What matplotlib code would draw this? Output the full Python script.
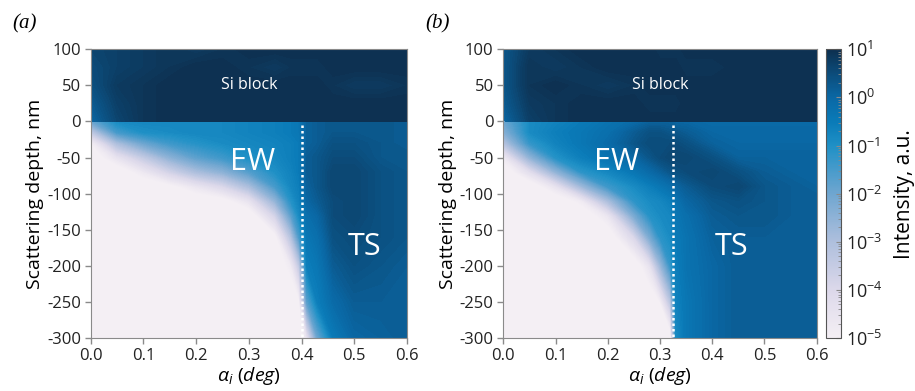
import numpy as np
import matplotlib
matplotlib.use('Agg')
import matplotlib.pyplot as plt
from matplotlib.colors import LogNorm, LinearSegmentedColormap
from matplotlib.cm import ScalarMappable

plt.rcParams['font.family'] = ['Open Sans', 'DejaVu Sans']
plt.rcParams['axes.unicode_minus'] = False
plt.rcParams['mathtext.fontset'] = 'custom'
plt.rcParams['mathtext.rm'] = 'Open Sans'
plt.rcParams['mathtext.it'] = 'Open Sans:italic'

# data: log10 of intensity ~~~~~~~~~~~~~~~~~~~~~~~~~~~~~~~~~~~~~~~~~~~~~~~
depth_sub = [0, -15, -30, -50, -70, -90, -110, -130, -160, -200, -250, -300]
depth_si = [0, 25, 50, 75, 100]

# panel (a): one row per incidence angle, values along depth_sub
alpha_a = [0.0, 0.05, 0.1, 0.15, 0.2, 0.25, 0.3, 0.35, 0.38, 0.395, 0.41,
           0.43, 0.46, 0.5, 0.55, 0.6]
sub_a = [
    [-2.0, -3.5, -5.0, -5.5, -5.5, -5.5, -5.5, -5.5, -5.5, -5.5, -5.5, -5.5],
    [-0.9, -1.5, -3.0, -4.5, -5.5, -5.5, -5.5, -5.5, -5.5, -5.5, -5.5, -5.5],
    [-0.8, -1.0, -2.0, -3.5, -4.7, -5.5, -5.5, -5.5, -5.5, -5.5, -5.5, -5.5],
    [-0.8, -0.9, -1.4, -2.5, -3.8, -5.2, -5.5, -5.5, -5.5, -5.5, -5.5, -5.5],
    [-0.8, -0.8, -1.1, -1.8, -3.0, -4.6, -5.5, -5.5, -5.5, -5.5, -5.5, -5.5],
    [-0.8, -0.8, -0.9, -1.4, -2.5, -4.0, -5.3, -5.5, -5.5, -5.5, -5.5, -5.5],
    [-0.7, -0.7, -0.8, -1.0, -1.7, -3.0, -4.5, -5.5, -5.5, -5.5, -5.5, -5.5],
    [-0.6, -0.6, -0.7, -0.8, -1.0, -1.5, -2.6, -3.8, -5.2, -5.5, -5.5, -5.5],
    [-0.5, -0.5, -0.6, -0.6, -0.7, -0.8, -1.1, -1.8, -3.2, -4.8, -5.5, -5.5],
    [-0.4, -0.4, -0.5, -0.5, -0.5, -0.6, -0.7, -0.9, -1.6, -3.5, -5.2, -5.5],
    [0.1, 0.1, 0.1, 0.2, 0.2, 0.1, 0.0, -0.2, -0.4, -0.6, -1.8, -4.5],
    [0.2, 0.2, 0.2, 0.3, 0.3, 0.3, 0.2, 0.0, -0.2, -0.4, -0.6, -2.0],
    [0.3, 0.3, 0.4, 0.5, 0.6, 0.6, 0.5, 0.5, 0.4, 0.2, -0.1, -0.5],
    [0.3, 0.3, 0.4, 0.5, 0.6, 0.6, 0.6, 0.6, 0.5, 0.4, 0.2, 0.0],
    [0.3, 0.3, 0.3, 0.3, 0.4, 0.4, 0.4, 0.4, 0.4, 0.3, 0.2, 0.1],
    [0.2, 0.2, 0.2, 0.3, 0.3, 0.3, 0.3, 0.3, 0.3, 0.2, 0.2, 0.2],
]
# Si block of (a): one row per depth_si, values along alpha_a
si_a = [
    [0.0, 0.6, 0.9, 1.0, 1.0, 1.0, 1.0, 1.0, 1.0, 1.0, 1.0, 1.0, 1.0, 1.0, 1.0, 1.0],
    [0.2, 0.7, 0.9, 1.0, 1.0, 1.0, 1.0, 1.0, 1.0, 1.0, 1.0, 1.0, 1.0, 1.0, 1.0, 1.0],
    [0.4, 0.8, 0.9, 1.0, 1.0, 1.0, 1.0, 1.0, 1.0, 1.0, 1.0, 1.0, 0.9, 0.8, 0.8, 0.9],
    [0.5, 0.7, 0.8, 0.9, 1.0, 1.0, 0.9, 0.8, 0.9, 0.9, 0.9, 0.9, 1.0, 1.0, 1.0, 1.0],
    [0.6, 0.7, 0.8, 0.9, 0.8, 0.9, 1.0, 1.0, 1.0, 1.0, 1.0, 1.0, 1.0, 1.0, 1.0, 1.0],
]

# panel (b)
alpha_b = [0.0, 0.05, 0.1, 0.15, 0.2, 0.25, 0.28, 0.3, 0.32, 0.33, 0.35,
           0.4, 0.45, 0.5, 0.55, 0.6]
sub_b = [
    [-2.0, -2.4, -3.2, -4.8, -5.5, -5.5, -5.5, -5.5, -5.5, -5.5, -5.5, -5.5],
    [-0.9, -0.9, -1.3, -2.6, -4.3, -5.5, -5.5, -5.5, -5.5, -5.5, -5.5, -5.5],
    [-0.7, -0.6, -0.7, -1.1, -2.6, -4.5, -5.5, -5.5, -5.5, -5.5, -5.5, -5.5],
    [-0.5, -0.4, -0.4, -0.6, -1.2, -2.8, -4.8, -5.5, -5.5, -5.5, -5.5, -5.5],
    [-0.3, -0.2, -0.1, -0.3, -0.8, -1.4, -3.0, -4.6, -5.5, -5.5, -5.5, -5.5],
    [-0.1, 0.2, 0.3, 0.0, -0.4, -0.9, -1.2, -2.2, -4.0, -5.5, -5.5, -5.5],
    [0.1, 0.4, 0.5, 0.3, -0.1, -0.6, -0.9, -1.1, -2.2, -4.5, -5.5, -5.5],
    [0.1, 0.4, 0.5, 0.5, 0.1, -0.4, -0.8, -0.9, -1.2, -2.8, -5.0, -5.5],
    [0.1, 0.3, 0.5, 0.6, 0.3, -0.2, -0.6, -0.8, -0.9, -1.3, -3.3, -5.5],
    [0.0, 0.3, 0.5, 0.6, 0.4, 0.0, -0.3, -0.4, -0.5, -0.6, -0.7, -0.9],
    [0.0, 0.2, 0.4, 0.6, 0.5, 0.2, 0.0, -0.2, -0.3, -0.3, -0.4, -0.4],
    [-0.1, 0.0, 0.1, 0.4, 0.6, 0.5, 0.3, 0.2, 0.1, 0.0, 0.0, 0.0],
    [-0.1, 0.0, 0.0, 0.1, 0.4, 0.6, 0.4, 0.3, 0.2, 0.2, 0.2, 0.2],
    [-0.1, 0.0, 0.0, 0.1, 0.2, 0.3, 0.3, 0.3, 0.2, 0.2, 0.2, 0.2],
    [-0.1, 0.0, 0.0, 0.1, 0.1, 0.2, 0.2, 0.2, 0.2, 0.2, 0.2, 0.2],
    [-0.1, 0.0, 0.0, 0.1, 0.1, 0.1, 0.2, 0.2, 0.2, 0.2, 0.2, 0.2],
]
si_b = [
    [0.0, 0.7, 0.9, 1.0, 1.0, 1.0, 1.0, 1.0, 1.0, 1.0, 1.0, 1.0, 1.0, 1.0, 1.0, 1.0],
    [0.2, 0.8, 0.9, 1.0, 1.0, 1.0, 0.9, 0.9, 0.9, 0.9, 1.0, 1.0, 1.0, 1.0, 1.0, 1.0],
    [0.3, 0.9, 1.0, 0.9, 0.8, 0.9, 1.0, 1.0, 1.0, 1.0, 1.0, 1.0, 1.0, 1.0, 1.0, 1.0],
    [0.3, 0.9, 0.8, 0.9, 1.0, 1.0, 1.0, 1.0, 1.0, 1.0, 0.9, 0.9, 1.0, 1.0, 1.0, 1.0],
    [0.3, 0.8, 0.9, 1.0, 1.0, 1.0, 1.0, 0.9, 0.9, 0.9, 1.0, 1.0, 1.0, 1.0, 1.0, 1.0],
]

critical_a = 0.4
critical_b = 0.325

# helpers ~~~~~~~~~~~~~~~~~~~~~~~~~~~~~~~~~~~~~~~~~~~~~~~~~~~~~~~~~~~~~~~~~~
cmap = LinearSegmentedColormap.from_list('intens', [
    (0.0, '#f4eff4'), (1 / 6, '#dcd8ea'), (2 / 6, '#aebfdd'),
    (3 / 6, '#6fa6d0'), (4 / 6, '#1f90c6'), (4.5 / 6, '#0a7bb8'),
    (5 / 6, '#0a68a5'), (1.0, '#0d3050')])
levels = np.linspace(-5, 1, 121)
grey = '#8a8a8a'

def draw_panel(ax, alpha, sub, si, crit, ew_x, ts_x):
    ax.contourf(alpha, depth_sub, np.array(sub).T, levels=levels, cmap=cmap,
                extend='both')
    ax.contourf(alpha, depth_si, np.array(si), levels=levels, cmap=cmap,
                extend='both')
    ax.plot([crit, crit], [-5, -300], color='white', ls=(0, (1, 1.2)), lw=1.8)
    ax.text(0.3, 50, 'Si block', color='white', fontsize=11.5,
            ha='center', va='center')
    ax.text(ew_x, -56, 'EW', color='white', fontsize=22,
            ha='center', va='center')
    ax.text(ts_x, -174, 'TS', color='white', fontsize=22,
            ha='center', va='center')
    ax.set_xlim(0, 0.6)
    ax.set_ylim(-300, 100)
    ax.set_xticks([0.0, 0.1, 0.2, 0.3, 0.4, 0.5, 0.6])
    ax.set_xticklabels(['0.0', '0.1', '0.2', '0.3', '0.4', '0.5', '0.6'])
    ax.set_yticks(range(-300, 101, 50))
    ax.tick_params(colors=grey, labelcolor='#222222', labelsize=12,
                   length=4, width=1, pad=3)
    for sp in ax.spines.values():
        sp.set_color(grey)
    ax.set_xlabel(r'$\alpha_i$ $(deg)$', fontsize=14, labelpad=1)
    ax.set_ylabel('Scattering depth, nm', fontsize=14, labelpad=2)

# figure ~~~~~~~~~~~~~~~~~~~~~~~~~~~~~~~~~~~~~~~~~~~~~~~~~~~~~~~~~~~~~~~~~~~~
fig = plt.figure(figsize=(9.15, 3.91), dpi=100)
ax1 = fig.add_axes([0.0991, 0.1355, 0.3457, 0.7384])
ax2 = fig.add_axes([0.5501, 0.1355, 0.3425, 0.7384])
cax = fig.add_axes([0.9024, 0.1355, 0.0164, 0.7384])

draw_panel(ax1, alpha_a, sub_a, si_a, critical_a, 0.308, 0.52)
draw_panel(ax2, alpha_b, sub_b, si_b, critical_b, 0.217, 0.437)

fig.text(12 / 915, 1 - 24 / 391, '(a)', fontsize=15, family='Liberation Serif',
         style='italic', va='center')
fig.text(425 / 915, 1 - 24 / 391, '(b)', fontsize=15, family='Liberation Serif',
         style='italic', va='center')

sm = ScalarMappable(norm=LogNorm(vmin=1e-5, vmax=10), cmap=cmap)
cb = fig.colorbar(sm, cax=cax)
cb.outline.set_edgecolor('#555555')
cax.tick_params(which='both', direction='in', colors=grey,
                labelcolor='#222222', labelsize=13)
cb.set_label('Intensity, a.u.', fontsize=15, labelpad=8)

fig.savefig('out.png', dpi=100)
